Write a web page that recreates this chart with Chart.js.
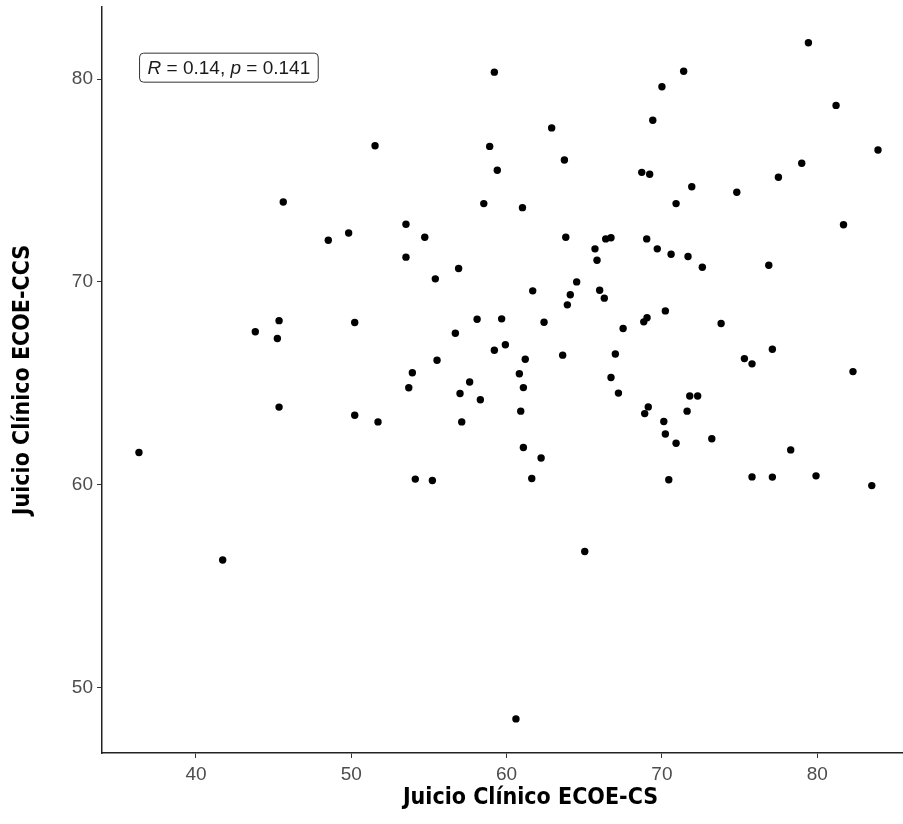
<!DOCTYPE html>
<html>
<head>
<meta charset="utf-8">
<script src="https://cdn.jsdelivr.net/npm/chart.js@4/dist/chart.umd.min.js"></script>
<style>
  html, body { margin: 0; padding: 0; background: #fff; }
  #wrap { width: 903px; height: 824px; }
</style>
</head>
<body>
<div id="wrap"><canvas id="scatter"></canvas></div>
<script>
// datos
const xValues = [
  45.62, 49.83, 48.52, 45.35, 43.82, 45.24, 50.22,
  59.21, 62.90, 51.53, 58.91, 63.72, 59.40, 58.53, 61.02, 53.52, 54.73,
  53.52, 63.81, 66.38, 66.72, 65.69, 65.82, 56.91, 55.41, 64.51, 61.68,
  64.10, 65.99, 66.29, 63.91, 58.10, 59.68, 62.41, 56.70, 67.50, 59.21,
  59.92, 55.52, 61.20, 63.61, 67.00, 53.93, 60.82, 66.72,
  79.43, 71.40, 70.00, 81.21, 69.41, 83.91, 79.00, 68.70, 69.21, 77.50,
  71.92, 74.82, 70.91, 81.69, 69.02, 69.70, 70.59, 71.68, 72.60, 76.88,
  70.22, 69.04, 68.83, 73.81, 77.11, 75.31, 75.80, 82.30,
  45.35, 50.22, 36.33, 41.72,
  57.62, 53.70, 57.00, 58.31, 61.08, 67.20, 60.91, 51.72, 57.11, 61.08,
  62.22, 54.12, 55.22, 61.62, 65.03, 60.60,
  71.79, 72.30, 69.12, 68.89, 71.62, 70.12, 70.22, 70.91, 73.21, 78.29,
  70.44, 75.80, 77.11, 79.92, 83.51
];
const yValues = [
  73.94, 72.41, 72.05, 68.09, 67.54, 67.21, 68.00,
  80.34, 77.59, 76.71, 76.68, 76.01, 75.50, 73.86, 73.66, 72.84, 72.20,
  71.22, 72.20, 72.12, 72.18, 71.63, 71.07, 70.66, 70.15, 70.00, 69.56,
  69.37, 69.59, 69.20, 68.87, 68.16, 68.18, 68.01, 67.47, 67.70, 66.63,
  66.90, 66.14, 66.19, 66.39, 66.45, 65.52, 65.47, 65.29,
  81.79, 80.38, 79.62, 78.70, 77.97, 76.50, 75.85, 75.40, 75.31, 75.16,
  74.69, 74.42, 73.86, 72.82, 72.12, 71.63, 71.36, 71.25, 70.72, 70.82,
  68.57, 68.23, 68.03, 67.95, 66.68, 66.22, 65.96, 65.58,
  63.83, 63.43, 61.59, 56.29,
  65.07, 64.78, 64.50, 64.19, 64.79, 64.52, 63.63, 63.10, 63.10, 61.84,
  61.32, 60.28, 60.21, 60.31, 56.71, 48.46,
  64.38, 64.38, 63.84, 63.51, 63.63, 63.12, 62.50, 62.05, 62.27, 61.72,
  60.25, 60.39, 60.38, 60.44, 59.96
];
const xTicks = [40, 50, 60, 70, 80];
const yTicks = [50, 60, 70, 80];
const xRange = [33.95, 85.52];
const yRange = [46.78, 83.55];
const xAxisTitle = 'Juicio Clínico ECOE-CS';
const yAxisTitle = 'Juicio Clínico ECOE-CCS';
const statR = '0.14';
const statP = '0.141';
const statPos = { x: 42.12, y: 80.56 };

const points = xValues.map((x, i) => ({ x: x, y: yValues[i] }));

const tickFamily = "'Liberation Sans', Arial, sans-serif";
const titleFamily = "'Liberation Sans Narrow', 'DejaVu Sans Condensed', sans-serif";
const tickFont = { family: tickFamily, size: 19 };
const titleFont = { family: titleFamily, size: 23, weight: 'bold' };

// recuadro con R y p, y título del eje x
const extras = {
  id: 'extras',
  afterDraw(chart) {
    const ctx = chart.ctx;
    const area = chart.chartArea;
    const cx = chart.scales.x.getPixelForValue(statPos.x);
    const cy = chart.scales.y.getPixelForValue(statPos.y);
    const parts = [
      { t: 'R', it: true },
      { t: ' = ' + statR + ', ', it: false },
      { t: 'p', it: true },
      { t: ' = ' + statP, it: false }
    ];
    let total = 0;
    parts.forEach(p => {
      ctx.font = (p.it ? 'italic ' : '') + '19px ' + tickFamily;
      p.w = ctx.measureText(p.t).width;
      total += p.w;
    });
    const padX = 8, h = 29;
    ctx.save();
    ctx.beginPath();
    ctx.roundRect(cx - total / 2 - padX, cy - h / 2, total + padX * 2, h, 4);
    ctx.fillStyle = '#fff';
    ctx.fill();
    ctx.strokeStyle = '#333';
    ctx.lineWidth = 1;
    ctx.stroke();
    ctx.fillStyle = '#1a1a1a';
    ctx.textBaseline = 'middle';
    let x = cx - total / 2;
    parts.forEach(p => {
      ctx.font = (p.it ? 'italic ' : '') + '19px ' + tickFamily;
      ctx.fillText(p.t, x, cy + 1);
      x += p.w;
    });

    // título eje x
    ctx.font = 'bold 23px ' + titleFamily;
    ctx.fillStyle = '#000';
    ctx.textAlign = 'center';
    ctx.textBaseline = 'middle';
    ctx.fillText(xAxisTitle, area.left + (area.right - area.left) * 0.535, 798);
    ctx.restore();
  }
};

// quitar el relleno que Chart.js reserva para las etiquetas extremas
function noEdgePadding(s) {
  s.paddingTop = 0;
  s.paddingBottom = 0;
  s.paddingLeft = 0;
  s.paddingRight = 0;
}

new Chart(document.getElementById('scatter').getContext('2d'), {
  type: 'scatter',
  data: {
    datasets: [{
      data: points,
      backgroundColor: '#000',
      borderColor: '#000',
      pointRadius: 3.7,
      pointHoverRadius: 3.7,
      borderWidth: 0
    }]
  },
  options: {
    responsive: true,
    maintainAspectRatio: false,
    animation: false,
    layout: { autoPadding: false, padding: { top: 7, right: 0, bottom: 0, left: 0 } },
    plugins: {
      legend: { display: false },
      tooltip: { enabled: false }
    },
    scales: {
      x: {
        type: 'linear',
        min: xRange[0],
        max: xRange[1],
        afterBuildTicks: s => { s.ticks = xTicks.map(v => ({ value: v })); },
        afterFit: s => { s.height = 71; noEdgePadding(s); },
        grid: { drawOnChartArea: false, tickLength: 5, tickColor: '#333', tickWidth: 1 },
        border: { display: true, color: '#222', width: 1.5 },
        ticks: { font: tickFont, color: '#4d4d4d', padding: 5, maxRotation: 0 },
        title: { display: false }
      },
      y: {
        type: 'linear',
        min: yRange[0],
        max: yRange[1],
        afterBuildTicks: s => { s.ticks = yTicks.map(v => ({ value: v })); },
        afterFit: s => { s.width = 102; noEdgePadding(s); },
        grid: { drawOnChartArea: false, tickLength: 5, tickColor: '#333', tickWidth: 1 },
        border: { display: true, color: '#222', width: 1.5 },
        ticks: { font: tickFont, color: '#4d4d4d', padding: 4 },
        title: {
          display: true,
          text: yAxisTitle,
          font: titleFont,
          color: '#000',
          padding: { top: 9, bottom: 0 }
        }
      }
    }
  },
  plugins: [extras]
});
</script>
</body>
</html>
